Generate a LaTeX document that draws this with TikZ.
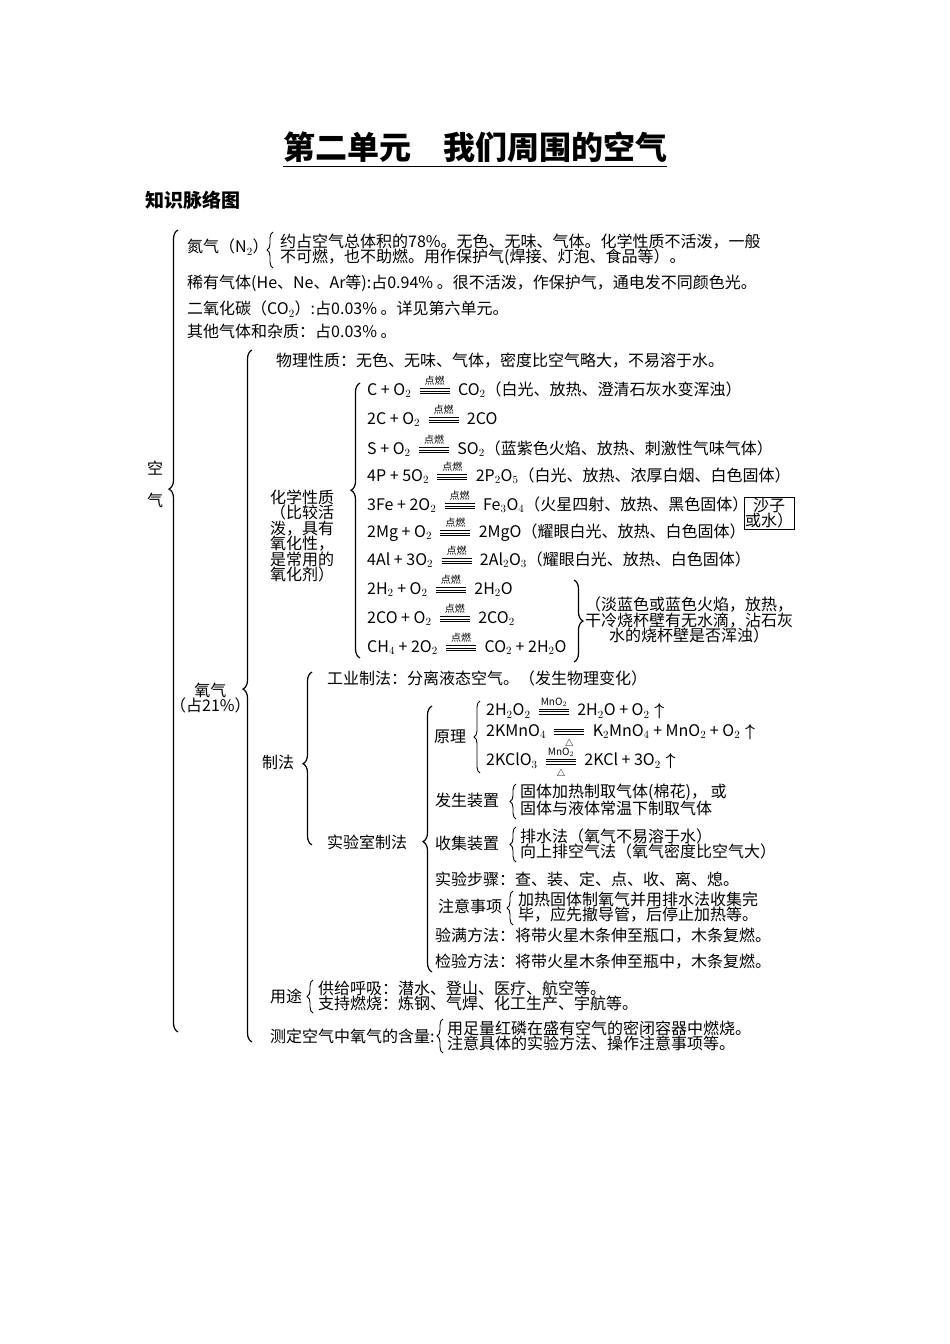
\documentclass[tikz,border=0pt]{standalone}
\usepackage{amsmath}
\usepackage{fontspec}
\setmainfont{Noto Sans CJK SC}
\usetikzlibrary{decorations.pathreplacing}
\newcommand\tl{\mathrel{\vcenter{\offinterlineskip\hbox{\rule{30pt}{0.7pt}}\vskip1.8pt\hbox{\rule{30pt}{0.7pt}}\vskip1.8pt\hbox{\rule{30pt}{0.7pt}}}}}
\newcommand\rx[2]{\;\mathrel{\overset{\text{\fontsize{10}{10}\selectfont #1}}{\underset{\text{\fontsize{10}{10}\selectfont #2}}{\tl}}}\;}
\begin{document}
\begin{tikzpicture}[x=1pt,y=-1pt,
  t/.style={anchor=west,inner sep=0pt,font=\fontsize{16}{17}\selectfont},
  ml/.style={t,align=left,font=\fontsize{16}{15.5}\selectfont},
  br/.style={draw,line width=1.2pt,decorate,decoration={brace,amplitude=9pt,aspect=#1}},
  br/.default=0.5,
  sb/.style={draw,line width=0.9pt,decorate,decoration={brace,amplitude=6pt,aspect=0.5}}]
\useasboundingbox (0,0) rectangle (950,1344);
\node[font=\bfseries\fontsize{32}{34}\selectfont] (title) at (475,150) {\underline{第二单元\quad 我们周围的空气}};
\node[t,font=\bfseries\fontsize{19}{20}\selectfont] (sub) at (145,200) {知识脉络图};
\draw[br=0.677] (178,1032) -- (178,230);
\node[t] (kq1) at (147,468) {空};
\node[t] (kq2) at (147,500) {气};
\node[t] (n2) at (187,247) {氮气（N$_2$）};
\draw[sb] (273,268) -- (273,232);
\node[ml] (n2t) at (280,250) {约占空气总体积的78\%。无色、无味、气体。化学性质不活泼，一般\\不可燃，也不助燃。用作保护气(焊接、灯泡、食品等）。};
\node[t] (xy) at (187,283) {稀有气体(He、Ne、Ar等):占0.94\% 。很不活泼，作保护气，通电发不同颜色光。};
\node[t] (co2) at (187,309) {二氧化碳（CO$_2$）:占0.03\% 。详见第六单元。};
\node[t] (qt) at (187,331) {其他气体和杂质：占0.03\% 。};
\node[ml,align=center] (o2) at (170,698) {氧气\\（占21\%）};
\draw[br=0.51] (252,1042) -- (252,350);
\node[t] (wl) at (276,361) {物理性质：无色、无味、气体，密度比空气略大，不易溶于水。};
\node[ml,align=center] (hx) at (270,536) {化学性质\\（比较活\\泼，具有\\氧化性，\\是常用的\\氧化剂）};
\draw[br=0.61] (360,658) -- (360,383);
\node[t] (e1) at (367,391) {C + O$_2$ $\rx{点燃}{}$ CO$_2$（白光、放热、澄清石灰水变浑浊）};
\node[t] (e2) at (367,420) {2C + O$_2$ $\rx{点燃}{}$ 2CO};
\node[t] (e3) at (367,450) {S + O$_2$ $\rx{点燃}{}$ SO$_2$（蓝紫色火焰、放热、刺激性气味气体）};
\node[t] (e4) at (367,477) {4P + 5O$_2$ $\rx{点燃}{}$ 2P$_2$O$_5$（白光、放热、浓厚白烟、白色固体）};
\node[t] (e5) at (367,506) {3Fe + 2O$_2$ $\rx{点燃}{}$ Fe$_3$O$_4$（火星四射、放热、黑色固体）};
\node[ml,draw,inner sep=1pt,align=center] (sz) at (744,513) {沙子\\或水）};
\node[t] (e6) at (367,533) {2Mg + O$_2$ $\rx{点燃}{}$ 2MgO（耀眼白光、放热、白色固体）};
\node[t] (e7) at (367,561) {4Al + 3O$_2$ $\rx{点燃}{}$ 2Al$_2$O$_3$（耀眼白光、放热、白色固体）};
\node[t] (e8) at (367,590) {2H$_2$ + O$_2$ $\rx{点燃}{}$ 2H$_2$O};
\node[t] (e9) at (367,619) {2CO + O$_2$ $\rx{点燃}{}$ 2CO$_2$};
\node[t] (e10) at (367,648) {CH$_4$ + 2O$_2$ $\rx{点燃}{}$ CO$_2$ + 2H$_2$O};
\draw[br] (574,580) -- (574,662);
\node[ml,align=center] (bz) at (585,620) {（淡蓝色或蓝色火焰，放热，\\干冷烧杯壁有无水滴，沾石灰\\水的烧杯壁是否浑浊）};
\node[t] (gy) at (327,678) {工业制法：分离液态空气。（发生物理变化）};
\node[t] (zf) at (262,762) {制法};
\draw[br=0.47] (312,845) -- (312,672);
\node[t] (sy) at (327,842) {实验室制法};
\draw[br=0.49] (432,972) -- (432,706);
\node[t] (yl) at (434,737) {原理};
\draw[sb] (480,773) -- (480,701);
\node[t] (r1) at (486,712) {2H$_2$O$_2$ $\rx{MnO$_2$}{}$ 2H$_2$O + O$_2\boldsymbol{\uparrow}$};
\node[t] (r2) at (486,737) {2KMnO$_4$ $\rx{}{$\triangle$}$ K$_2$MnO$_4$ + MnO$_2$ + O$_2\boldsymbol{\uparrow}$};
\node[t] (r3) at (486,763) {2KClO$_3$ $\rx{MnO$_2$}{$\triangle$}$ 2KCl + 3O$_2\boldsymbol{\uparrow}$};
\node[t] (fs) at (435,800) {发生装置};
\draw[sb] (516,819) -- (516,784);
\node[ml] (fst) at (520,800) {固体加热制取气体(棉花)， 或\\固体与液体常温下制取气体};
\node[t] (sj) at (435,843) {收集装置};
\draw[sb] (516,862) -- (516,827);
\node[ml] (sjt) at (520,844) {排水法（氧气不易溶于水）\\向上排空气法（氧气密度比空气大）};
\node[t] (bz2) at (435,879) {实验步骤：查、装、定、点、收、离、熄。};
\node[t] (zy) at (438,906) {注意事项};
\draw[sb] (513,925) -- (513,891);
\node[ml] (zyt) at (518,907) {加热固体制氧气并用排水法收集完\\毕，应先撤导管，后停止加热等。};
\node[t] (ym) at (435,936) {验满方法：将带火星木条伸至瓶口，木条复燃。};
\node[t] (jy) at (435,962) {检验方法：将带火星木条伸至瓶中，木条复燃。};
\node[t] (yt) at (270,996) {用途};
\draw[sb] (313,1013) -- (313,980);
\node[ml] (ytt) at (318,996) {供给呼吸：潜水、登山、医疗、航空等。\\支持燃烧：炼钢、气焊、化工生产、宇航等。};
\node[t] (cd) at (270,1036) {测定空气中氧气的含量:};
\draw[sb] (443,1053) -- (443,1019);
\node[ml] (cdt) at (447,1036) {用足量红磷在盛有空气的密闭容器中燃烧。\\注意具体的实验方法、操作注意事项等。};
\end{tikzpicture}
\end{document}
